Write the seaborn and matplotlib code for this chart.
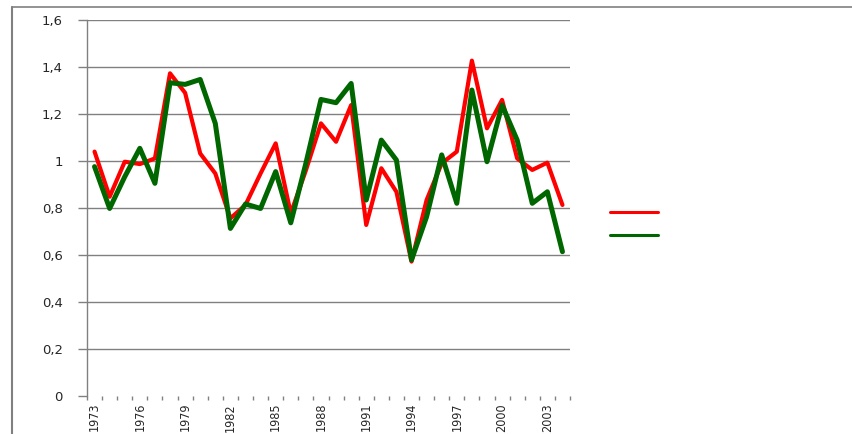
import matplotlib
matplotlib.use("Agg")
import matplotlib.pyplot as plt
import matplotlib.ticker as mticker
from matplotlib.lines import Line2D
import seaborn as sns
import pandas as pd

years = list(range(1973, 2005))
red_series = [1.04, 0.848, 0.997, 0.987, 1.011, 1.373, 1.29, 1.032, 0.947, 0.756,
              0.813, 0.947, 1.075, 0.777, 0.96, 1.16, 1.082, 1.238, 0.728, 0.969,
              0.869, 0.572, 0.834, 0.99, 1.04, 1.427, 1.139, 1.26, 1.011, 0.962,
              0.993, 0.813]
green_series = [0.976, 0.798, 0.933, 1.054, 0.905, 1.333, 1.326, 1.347, 1.16, 0.713,
                0.817, 0.798, 0.955, 0.737, 0.99, 1.262, 1.248, 1.33, 0.834, 1.089,
                1.004, 0.579, 0.763, 1.026, 0.82, 1.302, 0.997, 1.238, 1.089, 0.82,
                0.869, 0.614]
label_years = list(range(1973, 2004, 3))
y_ticks = [0, 0.2, 0.4, 0.6, 0.8, 1.0, 1.2, 1.4, 1.6]
y_labels = ["0", "0,2", "0,4", "0,6", "0,8", "1", "1,2", "1,4", "1,6"]

sns.set_theme(style="white")
plt.rcParams['font.family'] = ['DejaVu Sans']

fig = plt.figure(figsize=(8.52, 4.34), dpi=100)
ax = fig.add_axes([87/852, 1-396/434, (570-87)/852, (396-20)/434])

df_red = pd.DataFrame({"year": years, "value": red_series})
df_green = pd.DataFrame({"year": years, "value": green_series})
sns.lineplot(data=df_red, x="year", y="value", color="#FF0000", linewidth=3.0, ax=ax)
sns.lineplot(data=df_green, x="year", y="value", color="#006600", linewidth=3.6, ax=ax)

ax.set_xlim(years[0] - 0.5, years[-1] + 0.5)
ax.set_ylim(0, 1.6)
ax.set_xlabel("")
ax.set_ylabel("")

gray = "#808080"
ax.set_yticks(y_ticks)
ax.set_yticklabels(y_labels, fontsize=9.5)
ax.yaxis.grid(True, color=gray, linewidth=1.0)
ax.xaxis.grid(False)
ax.tick_params(axis="y", direction="out", length=6.5, width=1.0, color=gray,
               pad=11, left=True)
for i, gl in enumerate(ax.yaxis.get_gridlines()):
    if i == 0:
        gl.set_visible(False)

ax.set_xticks(label_years)
ax.set_xticklabels([str(y) for y in label_years], rotation=90,
                   fontsize=9, fontstretch="condensed", family="DejaVu Sans")
ax.xaxis.set_minor_locator(mticker.FixedLocator([y - 0.5 for y in years] + [years[-1] + 0.5]))
ax.tick_params(axis="x", which="major", length=0, pad=5, bottom=True)
ax.tick_params(axis="x", which="minor", direction="out", length=3, width=1.0,
               color=gray, bottom=True)

for s in ["top", "right", "bottom"]:
    ax.spines[s].set_visible(False)
ax.spines["left"].set_color(gray)
ax.spines["left"].set_linewidth(1.0)

handles = [Line2D([], [], color="#FF0000", linewidth=2.2),
           Line2D([], [], color="#006600", linewidth=2.2)]
fig.legend(handles, ["", ""], loc="upper left", bbox_to_anchor=(604/852, 1-200/434),
           frameon=False, handlelength=3.5, fontsize=10, labelspacing=0.65,
           borderaxespad=0)

fig.add_artist(Line2D([12/852, 12/852], [0, 1-7/434], transform=fig.transFigure,
                      color=gray, linewidth=1.5))
fig.add_artist(Line2D([12/852, 1], [1-7/434, 1-7/434], transform=fig.transFigure,
                      color=gray, linewidth=1.2))

fig.savefig("out.png", dpi=100)
